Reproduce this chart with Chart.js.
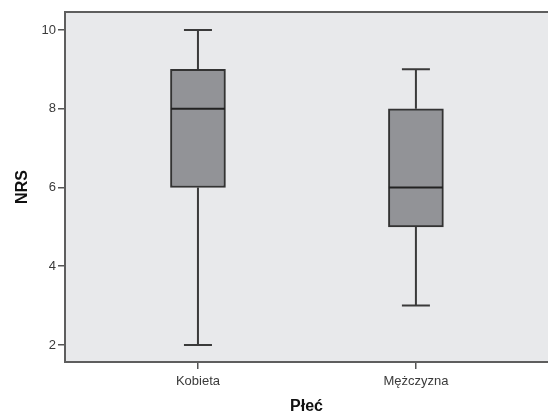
<!DOCTYPE html>
<html>
<head>
<meta charset="utf-8">
<script src="https://cdn.jsdelivr.net/npm/chart.js@4.4.0/dist/chart.umd.min.js"></script>
<style>
  html, body { margin: 0; padding: 0; background: #ffffff; }
  #wrap { width: 548px; height: 414px; }
</style>
</head>
<body>
<div id="wrap"><canvas id="c" width="548" height="414"></canvas></div>
<script>
// NRS pain scores by sex: five-number summaries
const categories = ['Kobieta', 'Mężczyzna'];
const mins    = [2, 3];
const q1s     = [6, 5];
const medians = [8, 6];
const q3s     = [9, 8];
const maxs    = [10, 9];
const yTicks  = [2, 4, 6, 8, 10];

const boxData = categories.map((c, i) => ({ x: i + 1, y: [q1s[i], q3s[i]] }));

// Plot background, top frame line, whiskers and medians
const boxExtras = {
  id: 'boxExtras',
  beforeDraw(chart) {
    const { ctx, chartArea: a } = chart;
    ctx.save();
    ctx.fillStyle = '#e8e9eb';
    ctx.fillRect(a.left, a.top, a.right - a.left, a.bottom - a.top);
    ctx.strokeStyle = '#5e5e5e';
    ctx.lineWidth = 2;
    ctx.beginPath();
    ctx.moveTo(a.left - 1, a.top);
    ctx.lineTo(a.right, a.top);
    ctx.stroke();
    ctx.restore();
  },
  beforeDatasetsDraw(chart) {
    const { ctx } = chart;
    const xs = chart.scales.x, ys = chart.scales.y;
    ctx.save();
    ctx.strokeStyle = '#3a3a3a';
    ctx.lineWidth = 2;
    categories.forEach((c, i) => {
      const x = xs.getPixelForValue(i + 1);
      ctx.beginPath();
      ctx.moveTo(x, ys.getPixelForValue(maxs[i]));
      ctx.lineTo(x, ys.getPixelForValue(q3s[i]));
      ctx.moveTo(x, ys.getPixelForValue(q1s[i]));
      ctx.lineTo(x, ys.getPixelForValue(mins[i]));
      ctx.moveTo(x - 14, ys.getPixelForValue(maxs[i]));
      ctx.lineTo(x + 14, ys.getPixelForValue(maxs[i]));
      ctx.moveTo(x - 14, ys.getPixelForValue(mins[i]));
      ctx.lineTo(x + 14, ys.getPixelForValue(mins[i]));
      ctx.stroke();
    });
    ctx.restore();
  },
  afterDatasetsDraw(chart) {
    const { ctx } = chart;
    const xs = chart.scales.x, ys = chart.scales.y;
    ctx.save();
    ctx.strokeStyle = '#222222';
    ctx.lineWidth = 2;
    categories.forEach((c, i) => {
      const x = xs.getPixelForValue(i + 1);
      const y = ys.getPixelForValue(medians[i]);
      ctx.beginPath();
      ctx.moveTo(x - 27, y);
      ctx.lineTo(x + 27, y);
      ctx.stroke();
    });
    ctx.restore();
  }
};

const tickFont = { family: "'Liberation Sans', Arial, sans-serif", size: 13 };
const titleFont = { family: "'Liberation Sans', Arial, sans-serif", size: 16, weight: 'bold' };

new Chart(document.getElementById('c'), {
  type: 'bar',
  data: {
    datasets: [{
      data: boxData,
      backgroundColor: '#929397',
      borderColor: '#333333',
      borderWidth: 2,
      borderSkipped: false,
      barThickness: 55
    }]
  },
  options: {
    responsive: false,
    animation: false,
    layout: { padding: { top: 12, right: 0, left: 0, bottom: 0 } },
    plugins: { legend: { display: false }, tooltip: { enabled: false } },
    scales: {
      x: {
        type: 'linear',
        offset: false,
        min: 0.39,
        max: 2.606,
        afterBuildTicks(scale) { scale.ticks = categories.map((c, i) => ({ value: i + 1 })); },
        afterFit(scale) { scale.height = 52; },
        ticks: {
          callback: v => categories[v - 1],
          font: tickFont,
          color: '#3a3a3a',
          padding: 5,
          maxRotation: 0
        },
        grid: { offset: false, drawOnChartArea: false, drawTicks: true, tickLength: 7, tickColor: '#555555', lineWidth: 1.5 },
        border: { display: true, color: '#5e5e5e', width: 2 },
        title: { display: true, text: 'Płeć', font: titleFont, color: '#111111', padding: { top: 0, bottom: -2 } }
      },
      y: {
        min: 1.568,
        max: 10.457,
        afterBuildTicks(scale) { scale.ticks = yTicks.map(v => ({ value: v })); },
        afterFit(scale) { scale.width = 65; },
        ticks: { font: tickFont, color: '#3a3a3a', padding: 2 },
        grid: { drawOnChartArea: false, drawTicks: true, tickLength: 7, tickColor: '#555555', lineWidth: 1.5 },
        border: { display: true, color: '#5e5e5e', width: 2 },
        title: { display: true, text: 'NRS', font: titleFont, color: '#111111', padding: { top: 13, bottom: 0 } }
      }
    }
  },
  plugins: [boxExtras]
});
</script>
</body>
</html>
